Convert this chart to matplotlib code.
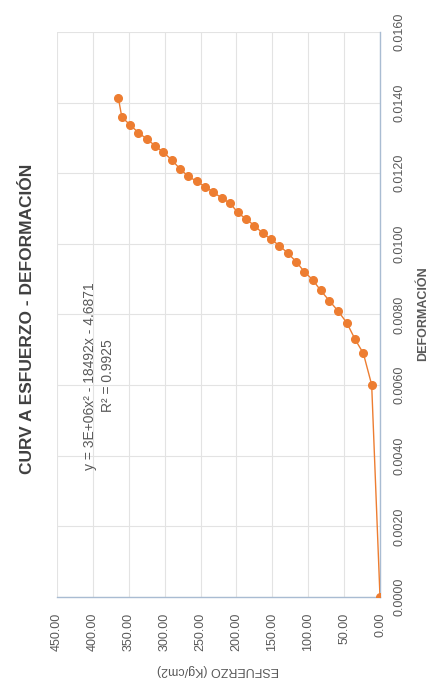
import matplotlib
matplotlib.use("Agg")
import matplotlib.pyplot as plt
from matplotlib.ticker import FormatStrFormatter, MultipleLocator

# stress (kg/cm2) vs strain
esfuerzo = [0.0, 11.6, 23.2, 34.8, 46.4, 58.9, 70.6, 82.6, 93.7, 105.4, 117.0,
            128.6, 140.2, 151.8, 163.4, 175.0, 186.6, 198.2, 208.9, 220.5,
            232.1, 243.7, 255.3, 266.9, 278.6, 290.1, 301.8, 313.4, 324.9,
            336.6, 348.2, 359.7, 364.5]
deformacion = [0.0000, 0.00601, 0.00690, 0.00730, 0.00777, 0.00811, 0.00839,
               0.00868, 0.00898, 0.00921, 0.00950, 0.00974, 0.00995, 0.01013,
               0.01030, 0.01052, 0.01070, 0.01089, 0.01115, 0.01130, 0.01146,
               0.01162, 0.01177, 0.01191, 0.01212, 0.01238, 0.01259, 0.01278,
               0.01297, 0.01315, 0.01337, 0.01359, 0.01413]

TITLE = "CURV A ESFUERZO - DEFORMACIÓN"
XLABEL = "DEFORMACIÓN"
YLABEL = "ESFUERZO (Kg/cm2)"
EQN = "y = 3E+06x² - 18492x - 4.6871\nR² = 0.9925"

ORANGE = "#ED7D31"
GREY = "#595959"
GRID = "#E3E3E3"
AXIS = "#A9BCD2"

plt.rcParams["font.family"] = ["Liberation Sans", "DejaVu Sans"]

W, H = 442, 698
fig = plt.figure(figsize=(W / 100, H / 100), dpi=100)
fig.patch.set_facecolor("white")

# the whole chart is turned 90 degrees counter-clockwise
ax = fig.add_axes([57 / W, 1 - 597 / H, 323 / W, 565 / H])
ax.plot(esfuerzo, deformacion, color=ORANGE, lw=1.0, marker="o",
        markersize=5.5, markeredgecolor=ORANGE, zorder=3)

ax.set_xlim(450, 0)
ax.set_ylim(0, 0.016)
ax.xaxis.set_major_locator(MultipleLocator(50))
ax.yaxis.set_major_locator(MultipleLocator(0.002))
ax.xaxis.set_major_formatter(FormatStrFormatter("%.2f"))
ax.yaxis.set_major_formatter(FormatStrFormatter("%.4f"))
ax.yaxis.tick_right()
ax.tick_params(axis="both", length=0, labelsize=9, labelcolor=GREY)
ax.tick_params(axis="x", pad=11.5, labelrotation=90)
ax.tick_params(axis="y", pad=10, labelrotation=90)
for lab in ax.get_yticklabels():
    lab.set_va("center")

ax.grid(True, color=GRID, lw=0.8)
ax.set_axisbelow(True)
for side in ("top", "left"):
    ax.spines[side].set_visible(False)
for side in ("bottom", "right"):
    ax.spines[side].set_color(AXIS)
    ax.spines[side].set_linewidth(1.0)

fig.text(423 / W, 1 - 314 / H, XLABEL, rotation=90, ha="center", va="center",
         fontsize=9, fontweight="bold", color=GREY)
fig.text(218 / W, 1 - 670 / H, YLABEL, rotation=180, ha="center", va="center",
         fontsize=9, color=GREY)
fig.text(28 / W, 1 - 319 / H, TITLE, rotation=90, ha="center", va="center",
         fontsize=12.5, fontweight="bold", color="#404040")
fig.text(99 / W, 1 - 376 / H, EQN, rotation=90, ha="center", va="center",
         multialignment="center", fontsize=10, color=GREY, linespacing=1.4)

fig.savefig("out.png", dpi=100)
